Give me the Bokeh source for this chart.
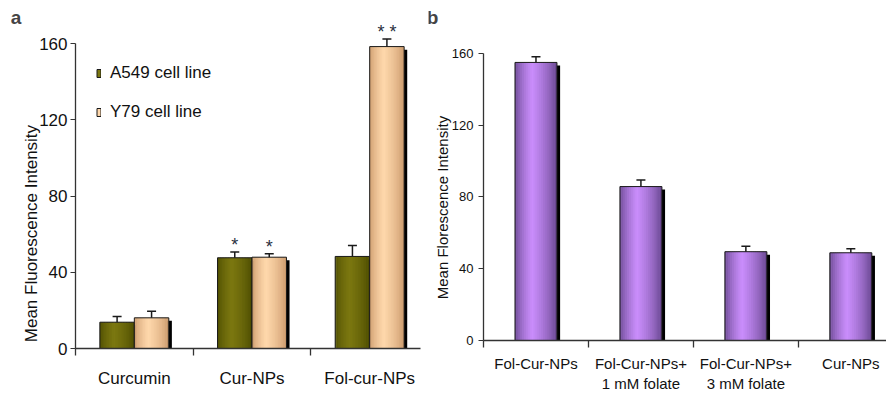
import math
from bokeh.plotting import figure
from bokeh.models import (ColumnDataSource, Range1d, FixedTicker, Whisker, TeeHead,
                          Legend, LegendItem, Label)
from bokeh.transform import dodge
from bokeh.layouts import row
from bokeh.core.properties import value
from bokeh.embed import file_html
from bokeh.resources import INLINE

# ---------------- data: panel a ----------------
cats_a = ["Curcumin", "Cur-NPs", "Fol-cur-NPs"]
series_a = ["A549 cell line", "Y79 cell line"]
a549 = [13.8, 47.6, 48.3]
a549_err = [3.0, 3.0, 5.8]
y79 = [16.1, 47.9, 158.4]
y79_err = [3.5, 1.8, 4.0]
sig_a549 = ["", "*", ""]
sig_y79 = ["", "*", "* *"]

# ---------------- data: panel b ----------------
cats_b = ["Fol-Cur-NPs", "Fol-Cur-NPs+\n1 mM folate", "Fol-Cur-NPs+\n3 mM folate", "Cur-NPs"]
vals_b = [155.0, 85.8, 49.5, 48.9]
err_b = [3.2, 3.7, 3.1, 2.3]

y_ticks = [0, 40, 80, 120, 160]

SANS = "Liberation Sans"
INK = "#1a1a1a"
AXIS = "#333333"
H = 394


def shade(edge, mid, t, peak=0.42):
    k = t / peak if t <= peak else (1 - t) / (1 - peak)
    k = max(0.0, min(1.0, k)) ** 0.6
    return "#%02x%02x%02x" % tuple(int(round(e + (m - e) * k)) for e, m in zip(edge, mid))


def shadows(p, src, width, dx, dy):
    p.vbar(x=dodge("x", dx), top=dodge("top", -dy), bottom=0, width=width, source=src,
           fill_color="black", line_color=None)


def bars(p, src, width, edge, mid, n=22):
    mid_r = None
    for i in range(n):
        off = -width / 2 + (i + 0.5) * width / n
        wslice = width / n * (1.6 if 0 < i < n - 1 else 1.0)
        r = p.vbar(x=dodge("x", off), top="top", bottom=0, width=wslice, source=src,
                   fill_color=shade(edge, mid, (i + 0.5) / n), line_color=None)
        if i == int(n * 0.42):
            mid_r = r
    outline = p.vbar(x="x", top="top", bottom=0, width=width, source=src,
                     fill_color=None, line_color=INK, line_width=1)
    wh = Whisker(base="x", upper="hi", lower="top", source=src, dimension="height",
                 line_color=INK, line_width=1.5, level="annotation",
                 upper_head=TeeHead(size=9, line_color=INK, line_width=1.5), lower_head=None)
    p.add_layout(wh)
    return mid_r, outline


def make_fig(width, x0_px, xscale, y0_px, yscale):
    # frame covers the whole figure; axes sit at data 0 via fixed_location
    xr = Range1d(-x0_px / xscale, (width - x0_px) / xscale)
    yr = Range1d(-(H - y0_px) / yscale, y0_px / yscale)
    p = figure(width=width, height=H, x_range=xr, y_range=yr,
               output_backend="svg", toolbar_location=None,
               min_border_left=0, min_border_right=0, min_border_top=0, min_border_bottom=0)
    p.outline_line_color = None
    p.xgrid.visible = False
    p.ygrid.visible = False
    p.background_fill_color = "white"
    p.yaxis.fixed_location = 0
    p.xaxis.fixed_location = 0
    return p


def style_axes(p, ysize, ystand, xsize, xstand, xbound, centers, cats):
    p.yaxis.ticker = FixedTicker(ticks=y_ticks)
    p.yaxis.bounds = (0, 160)
    p.yaxis.major_tick_out = 5
    p.yaxis.major_tick_in = 0
    p.yaxis.minor_tick_out = 0
    p.yaxis.minor_tick_in = 0
    p.yaxis.axis_line_color = AXIS
    p.yaxis.axis_line_width = 1.3
    p.yaxis.major_tick_line_color = AXIS
    p.yaxis.major_label_text_font = SANS
    p.yaxis.major_label_text_font_size = ysize
    p.yaxis.major_label_text_color = "#111111"
    p.yaxis.major_label_standoff = ystand
    p.xaxis.ticker = FixedTicker(ticks=centers, minor_ticks=list(range(len(cats) + 1)))
    p.xaxis.major_label_overrides = {c: n for c, n in zip(centers, cats)}
    p.xaxis.bounds = xbound
    p.xaxis.major_tick_out = 0
    p.xaxis.major_tick_in = 0
    p.xaxis.minor_tick_out = 7
    p.xaxis.minor_tick_in = 0
    p.xaxis.axis_line_color = AXIS
    p.xaxis.axis_line_width = 1.3
    p.xaxis.minor_tick_line_color = AXIS
    p.xaxis.minor_tick_line_width = 1.3
    p.xaxis.major_label_text_font = SANS
    p.xaxis.major_label_text_font_size = xsize
    p.xaxis.major_label_text_color = "#111111"
    p.xaxis.major_label_standoff = xstand


# ---------------- panel a ----------------
na = len(cats_a)
wa = 0.293
pa = make_fig(428, 75, 117.67, 348, 1.906)
centers_a = [i + 0.5 for i in range(na)]
src_a1 = ColumnDataSource(dict(x=[c - wa / 2 for c in centers_a], top=a549,
                               hi=[v + e for v, e in zip(a549, a549_err)], sig=sig_a549))
src_a2 = ColumnDataSource(dict(x=[c + wa / 2 for c in centers_a], top=y79,
                               hi=[v + e for v, e in zip(y79, y79_err)], sig=sig_y79))
shadows(pa, src_a1, wa, 0.026, 1.6)
shadows(pa, src_a2, wa, 0.026, 1.6)
m1, o1 = bars(pa, src_a1, wa, (72, 72, 0), (124, 120, 16))
m2, o2 = bars(pa, src_a2, wa, (196, 146, 100), (255, 216, 172))
for s in (src_a1, src_a2):
    pa.text(x="x", y=dodge("hi", 3.5), text="sig", source=s, text_font=value(SANS),
            text_font_size="18px", text_align="center", text_baseline="alphabetic",
            text_color="#2a3040")
style_axes(pa, "17px", 3, "17px", 13, (0, 2.93), centers_a, cats_a)

leg = Legend(items=[LegendItem(label=series_a[0], renderers=[m1, o1]),
                    LegendItem(label=series_a[1], renderers=[m2, o2])],
             location=(96, H - 122), glyph_width=5, glyph_height=10, label_standoff=9,
             label_height=20, spacing=19, padding=0, margin=0, border_line_color=None,
             background_fill_alpha=0, label_text_font=SANS, label_text_font_size="17px",
             label_text_color="#111111")
pa.add_layout(leg)
pa.add_layout(Label(x=-0.506, y=173.9, text="a", text_font=SANS, text_font_style="bold",
                    text_font_size="19px", text_align="center", text_baseline="middle"))
pa.add_layout(Label(x=-0.374, y=60.3, angle=math.pi / 2, text="Mean Fluorescence Intensity",
                    text_font=SANS, text_font_size="17px", text_align="center",
                    text_baseline="middle", text_color="#111111"))

# ---------------- panel b ----------------
nb = len(cats_b)
wb = 0.40
pb = make_fig(458, 55, 104.95, 340, 1.794)
centers_b = [i + 0.5 for i in range(nb)]
src_b = ColumnDataSource(dict(x=centers_b, top=vals_b, hi=[v + e for v, e in zip(vals_b, err_b)]))
shadows(pb, src_b, wb, 0.03, 1.7)
bars(pb, src_b, wb, (92, 62, 130), (202, 142, 252))
style_axes(pb, "13px", 5, "15px", 7, (0, 3.9), centers_b, cats_b)
pb.add_layout(Label(x=-0.486, y=180.0, text="b", text_font=SANS, text_font_style="bold",
                    text_font_size="19px", text_align="center", text_baseline="middle"))
pb.add_layout(Label(x=-0.39, y=74.1, angle=math.pi / 2, text="Mean Florescence Intensity",
                    text_font=SANS, text_font_size="15px", text_align="center",
                    text_baseline="middle", text_color="#111111"))

layout = row(pa, pb)
open("out.html", "w").write(file_html(layout, INLINE))
